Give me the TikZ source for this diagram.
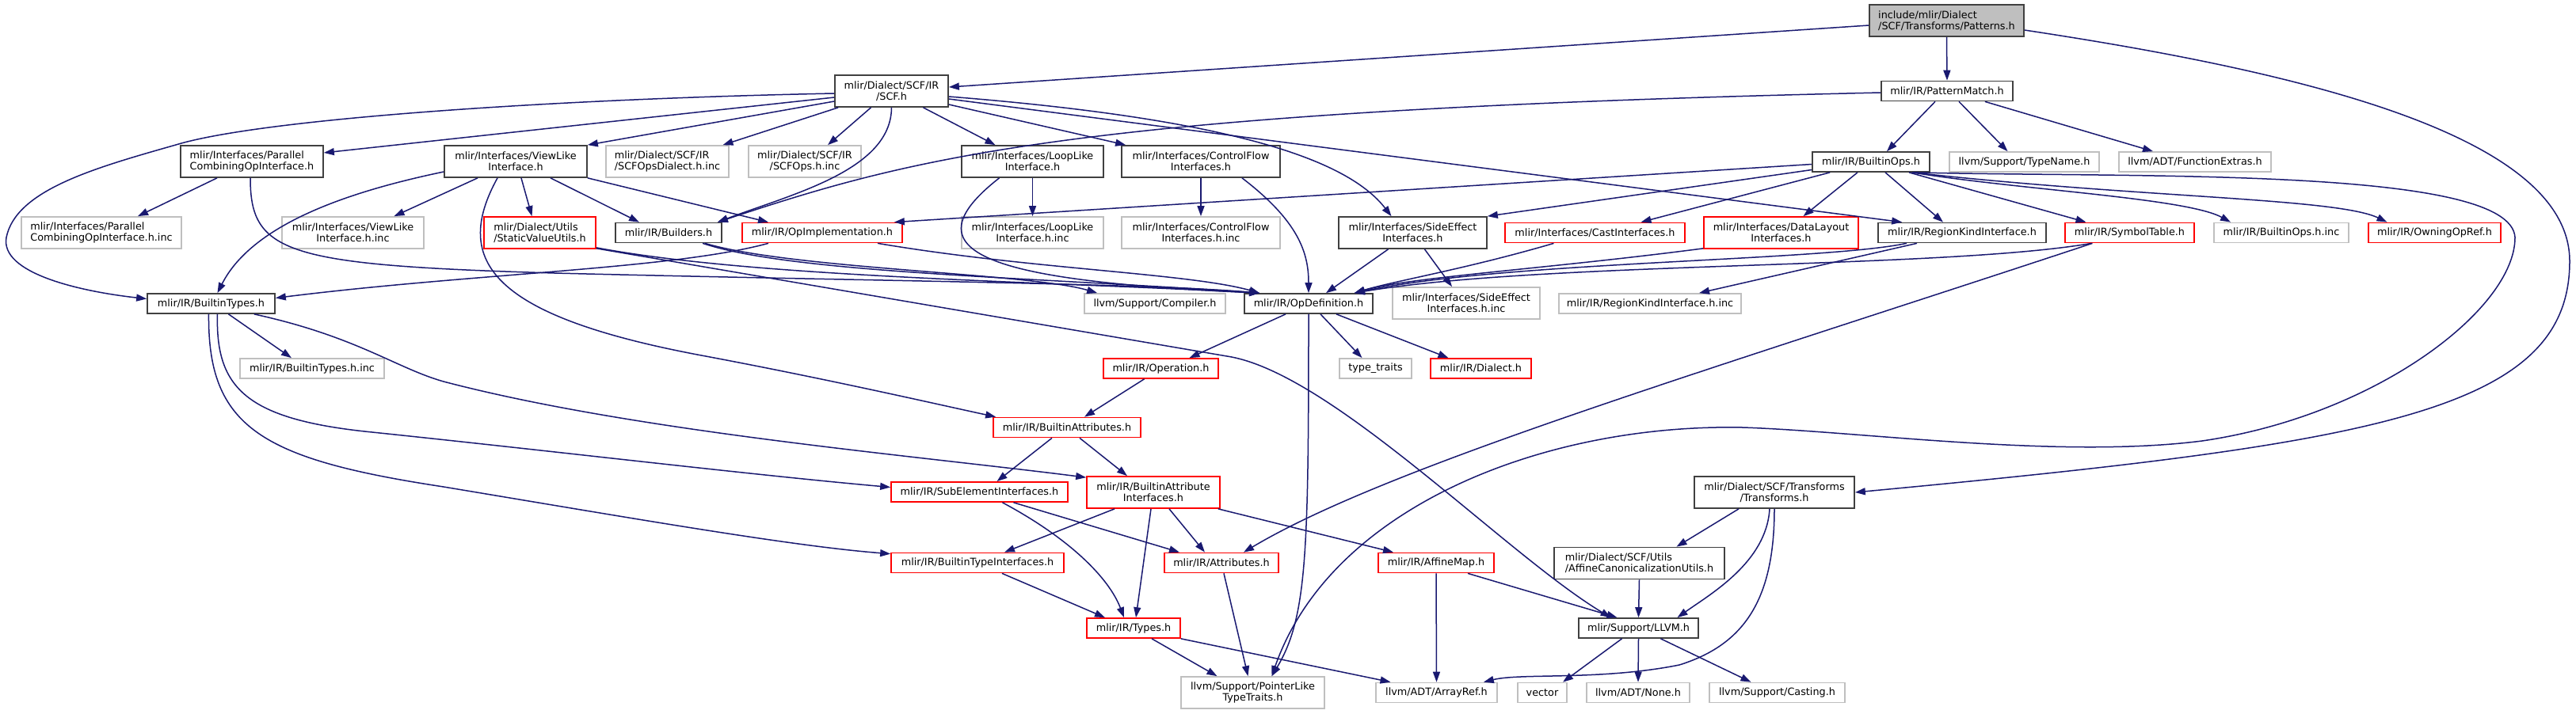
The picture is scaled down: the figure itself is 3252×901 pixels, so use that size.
\documentclass[tikz,border=0pt]{standalone}
\usepackage{fontspec}
\setmainfont{DejaVu Sans}
\usetikzlibrary{positioning, arrows.meta, calc}

\definecolor{edgeblue}{HTML}{191970}
\definecolor{grey25}{HTML}{404040}
\definecolor{grey75}{HTML}{BFBFBF}

\begin{document}
\begin{tikzpicture}[
    x=0.5pt, y=-0.5pt, % one unit = one pixel of the graph
    every node/.style={font=\fontsize{6.4}{7}\selectfont, align=center, inner sep=0pt, minimum height=12.5pt},
    doc/.style={draw=grey25, line width=0.85pt, fill=white},
    root/.style={draw=grey25, line width=0.85pt, fill=grey75},
    trunc/.style={draw=red, line width=0.85pt, fill=white},
    ext/.style={draw=grey75, line width=0.85pt, fill=white},
    two/.style={minimum height=20pt},
    lft/.style={align=left},
    bw/.style={minimum width=#1*0.5pt},
    dep/.style={draw=edgeblue, line width=0.75pt, -{Triangle[length=6.5pt, width=4.5pt]}}
]
    \useasboundingbox (0,0) rectangle (3252,901);

    % Rows of headers
    \node[root, two, lft, bw=195] (pat) at (2457.5,26) {include/mlir/Dialect\\/SCF/Transforms/Patterns.h};

    \node[doc, two, bw=143] (scf) at (1125.5,115) {mlir/Dialect/SCF/IR\\/SCF.h};
    \node[doc, bw=166] (pm) at (2458,115) {mlir/IR/PatternMatch.h};

    \node[doc, two, lft, bw=180] (par) at (318,204) {mlir/Interfaces/Parallel\\CombiningOpInterface.h};
    \node[doc, two, bw=180] (vl) at (651,204) {mlir/Interfaces/ViewLike\\Interface.h};
    \node[ext, two, lft, bw=155] (scfd) at (842.5,204) {mlir/Dialect/SCF/IR\\/SCFOpsDialect.h.inc};
    \node[ext, two, bw=142] (scfo) at (1016,204) {mlir/Dialect/SCF/IR\\/SCFOps.h.inc};
    \node[doc, two, bw=179] (ll) at (1303.5,204) {mlir/Interfaces/LoopLike\\Interface.h};
    \node[doc, two, bw=200] (cf) at (1516,204) {mlir/Interfaces/ControlFlow\\Interfaces.h};
    \node[doc, bw=148] (bops) at (2362,204.5) {mlir/IR/BuiltinOps.h};
    \node[ext, bw=189] (tn) at (2555.5,204.5) {llvm/Support/TypeName.h};
    \node[ext, bw=192] (fe) at (2771,204.5) {llvm/ADT/FunctionExtras.h};

    \node[ext, two, lft, bw=202] (pari) at (128,294) {mlir/Interfaces/Parallel\\CombiningOpInterface.h.inc};
    \node[ext, two, bw=179] (vli) at (445.5,294) {mlir/Interfaces/ViewLike\\Interface.h.inc};
    \node[trunc, two, lft, bw=141] (svu) at (681.5,294) {mlir/Dialect/Utils\\/StaticValueUtils.h};
    \node[doc, bw=134] (bld) at (844,294) {mlir/IR/Builders.h};
    \node[trunc, bw=202] (opi) at (1038,294) {mlir/IR/OpImplementation.h};
    \node[ext, two, bw=179] (lli) at (1303.5,294) {mlir/Interfaces/LoopLike\\Interface.h.inc};
    \node[ext, two, bw=200] (cfi) at (1516,294) {mlir/Interfaces/ControlFlow\\Interfaces.h.inc};
    \node[doc, two, bw=187] (se) at (1783.5,294) {mlir/Interfaces/SideEffect\\Interfaces.h};
    \node[trunc, bw=227] (ci) at (2013.5,294) {mlir/Interfaces/CastInterfaces.h};
    \node[trunc, two, bw=195] (dl) at (2248.5,294) {mlir/Interfaces/DataLayout\\Interfaces.h};
    \node[doc, bw=212] (rk) at (2477,294) {mlir/IR/RegionKindInterface.h};
    \node[trunc, bw=163] (st) at (2688.5,294) {mlir/IR/SymbolTable.h};
    \node[ext, bw=170] (bopsi) at (2880,294) {mlir/IR/BuiltinOps.h.inc};
    \node[trunc, bw=167] (oor) at (3073.5,294) {mlir/IR/OwningOpRef.h};

    \node[doc, bw=161] (bt) at (266.5,383.5) {mlir/IR/BuiltinTypes.h};
    \node[ext, bw=178] (comp) at (1458,383.5) {llvm/Support/Compiler.h};
    \node[doc, bw=162] (od) at (1652,383.5) {mlir/IR/OpDefinition.h};
    \node[ext, two, bw=186] (sei) at (1851,383) {mlir/Interfaces/SideEffect\\Interfaces.h.inc};
    \node[ext, bw=230] (rki) at (2083,383.5) {mlir/IR/RegionKindInterface.h.inc};

    \node[ext, bw=182] (bti) at (394,465.5) {mlir/IR/BuiltinTypes.h.inc};
    \node[trunc, bw=145] (op) at (1465.5,465.5) {mlir/IR/Operation.h};
    \node[ext, bw=91] (tt) at (1736.5,465.5) {type\_traits};
    \node[trunc, bw=127] (dia) at (1869.5,465.5) {mlir/IR/Dialect.h};

    \node[trunc, bw=186] (ba) at (1347,540) {mlir/IR/BuiltinAttributes.h};

    \node[trunc, bw=223] (subel) at (1236.5,621.5) {mlir/IR/SubElementInterfaces.h};
    \node[trunc, two, bw=168] (bai) at (1456,622) {mlir/IR/BuiltinAttribute\\Interfaces.h};
    \node[doc, two, bw=202] (tr) at (2240,622) {mlir/Dialect/SCF/Transforms\\/Transforms.h};

    \node[trunc, bw=218] (btif) at (1234,711) {mlir/IR/BuiltinTypeInterfaces.h};
    \node[trunc, bw=144] (attr) at (1542,711) {mlir/IR/Attributes.h};
    \node[trunc, bw=146] (am) at (1813,711) {mlir/IR/AffineMap.h};
    \node[doc, two, lft, bw=215] (acu) at (2069.5,711.5) {mlir/Dialect/SCF/Utils\\/AffineCanonicalizationUtils.h};

    \node[trunc, bw=118] (ty) at (1431,793.5) {mlir/IR/Types.h};
    \node[doc, bw=151] (llvm) at (2068.5,793.5) {mlir/Support/LLVM.h};

    \node[ext, two, bw=181] (plt) at (1581.5,875) {llvm/Support/PointerLike\\TypeTraits.h};
    \node[ext, bw=153] (ar) at (1813.5,875) {llvm/ADT/ArrayRef.h};
    \node[ext, bw=62] (vec) at (1947,875) {vector};
    \node[ext, bw=130] (none) at (2068,875) {llvm/ADT/None.h};
    \node[ext, bw=171] (cast) at (2243.5,875) {llvm/Support/Casting.h};

    % Meeting points of several arrows
    \coordinate (odl) at ($(od.north west)+(20,0)$);
    \coordinate (odr) at ($(od.north east)+(-24,0)$);
    \coordinate (pltr) at ($(plt.north)+(24,0)$);

    % Patterns.h
    \draw[dep] ($(pat.west)+(0,6)$) -- ($(scf.east)+(0,-5)$);
    \draw[dep] (pat.south) -- (pm.north);
    \draw[dep] ($(pat.east)+(0,12)$) .. controls (2900,90) and (3244,170) .. (3244,330)
        .. controls (3244,520) and (3000,560) .. (tr.east);

    % SCF.h
    \draw[dep] ($(scf.west)+(0,8)$) -- ($(par.east)+(0,-11)$);
    \draw[dep] ($(scf.west)+(0,13)$) -- (vl.north east);
    \draw[dep] ($(scf.south west)+(5,0)$) -- ($(scfd.north)+(70,0)$);
    \draw[dep] ($(scf.south)+(-26,0)$) -- ($(scfo.north)+(29,0)$);
    \draw[dep] ($(scf.west)+(0,3)$) .. controls (700,125) and (330,150) .. (222,183)
        .. controls (120,212) and (20,240) .. (8,300)
        .. controls (0,345) and (100,368) .. ($(bt.west)+(0,-6)$);
    \draw[dep] (scf.south) .. controls (1125,215) and (1000,245) .. ($(bld.north east)+(-6,0)$);
    \draw[dep] ($(scf.south)+(40,0)$) -- ($(ll.north)+(-47,0)$);
    \draw[dep] ($(scf.east)+(0,17)$) -- ($(cf.north west)+(6,0)$);
    \draw[dep] ($(scf.east)+(0,7)$) .. controls (1550,150) and (1700,200) .. ($(se.north)+(-27,0)$);
    \draw[dep] ($(scf.east)+(0,10)$) -- ($(rk.north west)+(31,0)$);

    % PatternMatch.h
    \draw[dep] ($(pm.west)+(0,2)$) .. controls (1350,140) and (1150,200) .. ($(bld.north east)+(-6,0)$);
    \draw[dep] ($(pm.south)+(-15,0)$) -- ($(bops.north)+(20,0)$);
    \draw[dep] ($(pm.south)+(15,0)$) -- ($(tn.north)+(-21,0)$);
    \draw[dep] ($(pm.south east)+(-36,0)$) -- ($(fe.north)+(-53,0)$);

    % Interfaces
    \draw[dep] ($(par.south)+(-44,0)$) -- ($(pari.north)+(46,0)$);
    \draw[dep] ($(par.south)+(-2,0)$) .. controls (316,320) and (360,335) .. (700,345)
        .. controls (1100,355) and (1450,358) .. (odl);
    \draw[dep] ($(vl.west)+(0,13)$) .. controls (450,240) and (320,280) .. ($(bt.north)+(8,0)$);
    \draw[dep] ($(vl.south)+(-48,0)$) -- ($(vli.north)+(52,0)$);
    \draw[dep] ($(vl.south)+(7,0)$) -- ($(svu.north)+(-10,0)$);
    \draw[dep] ($(vl.south)+(44,0)$) -- ($(bld.north)+(-37,0)$);
    \draw[dep] (vl.south east) -- ($(opi.north)+(-68,0)$);
    \draw[dep] ($(vl.south)+(-23,0)$) .. controls (570,330) and (620,400) .. (891,450)
        .. controls (1050,480) and (1180,510) .. ($(ba.north west)+(4,0)$);
    \draw[dep] (ll.south) -- (lli.north);
    \draw[dep] ($(ll.south)+(-42,0)$) .. controls (1140,320) and (1250,355) .. (odl);
    \draw[dep] (cf.south) -- (cfi.north);
    \draw[dep] ($(cf.south)+(52,0)$) .. controls (1640,280) and (1652,320) .. (od.north);

    % BuiltinTypes.h
    \draw[dep] ($(bt.south)+(22,0)$) -- ($(bti.north)+(-26,0)$);
    \draw[dep] ($(bt.south east)+(-27,0)$) .. controls (450,425) and (500,465) .. (560,482)
        .. controls (800,545) and (1150,575) .. ($(bai.north west)+(0,2)$);
    \draw[dep] ($(bt.south)+(8,0)$) .. controls (272,490) and (310,530) .. (470,546)
        .. controls (700,570) and (950,600) .. ($(subel.west)+(0,-6)$);
    \draw[dep] ($(bt.south)+(-3,0)$) .. controls (262,540) and (330,580) .. (560,615)
        .. controls (800,655) and (1000,690) .. ($(btif.north west)+(0,2)$);

    % Utils, Builders, OpImplementation
    \draw[dep] ($(svu.south east)+(0,-2)$) .. controls (950,350) and (1300,355) .. (odl);
    \draw[dep] ($(svu.south east)+(0,-1)$) -- (1549,450) .. controls (1680,470) and (1900,700) .. ($(llvm.north)+(-35,0)$);
    \draw[dep] ($(bld.south)+(43,0)$) .. controls (1000,345) and (1300,350) .. (odl);
    \draw[dep] ($(bld.south)+(46,0)$) .. controls (1000,340) and (1300,345) .. ($(comp.north west)+(17,0)$);
    \draw[dep] ($(opi.south)+(70,0)$) .. controls (1300,340) and (1500,345) .. (odl);
    \draw[dep] ($(opi.south)+(-68,0)$) .. controls (850,340) and (600,345) .. ($(bt.east)+(0,-7)$);

    % right hand interfaces
    \draw[dep] ($(se.south)+(-31,0)$) -- ($(od.north)+(22,0)$);
    \draw[dep] ($(se.south)+(15,0)$) -- ($(sei.north)+(-18,0)$);
    \draw[dep] ($(ci.south)+(-52,0)$) .. controls (1850,340) and (1760,355) .. (odr);
    \draw[dep] ($(dl.south west)+(0,-1)$) .. controls (1950,340) and (1780,350) .. (odr);
    \draw[dep] ($(rk.south)+(-70,0)$) .. controls (2300,330) and (1900,330) .. (odr);
    \draw[dep] ($(rk.south)+(-57,0)$) -- ($(rki.north)+(62,0)$);
    \draw[dep] ($(st.south)+(-48,0)$) .. controls (2450,340) and (1950,330) .. (odr);
    \draw[dep] ($(st.south)+(-47,0)$) .. controls (2150,470) and (1750,590) .. ($(attr.north)+(28,0)$);

    % BuiltinOps.h
    \draw[dep] ($(bops.west)+(0,3)$) -- ($(opi.north east)+(-11,0)$);
    \draw[dep] ($(bops.west)+(0,10)$) -- (se.north east);
    \draw[dep] ($(bops.south west)+(23,0)$) -- ($(ci.north)+(58,0)$);
    \draw[dep] ($(bops.south)+(-17,0)$) -- ($(dl.north)+(28,0)$);
    \draw[dep] ($(bops.south)+(18,0)$) -- ($(rk.north)+(-24,0)$);
    \draw[dep] ($(bops.south)+(48,0)$) -- ($(st.north)+(-55,0)$);
    \draw[dep] ($(bops.south)+(52,0)$) .. controls (2550,240) and (2760,250) .. ($(bopsi.north)+(-64,0)$);
    \draw[dep] ($(bops.south)+(52,0)$) .. controls (2700,250) and (2950,250) .. ($(oor.north)+(-60,0)$);
    \draw[dep] ($(bops.south)+(54,0)$) .. controls (2700,225) and (3170,210) .. (3175,300)
        .. controls (3175,390) and (3000,525) .. (2780,557)
        .. controls (2600,580) and (2350,545) .. (2200,540)
        .. controls (1950,535) and (1680,640) .. (pltr);

    % OpDefinition.h
    \draw[dep] ($(od.south)+(-29,0)$) -- ($(op.north)+(36,0)$);
    \draw[dep] (od.south) .. controls (1652,700) and (1650,780) .. (pltr);
    \draw[dep] ($(od.south)+(15,0)$) -- ($(tt.north)+(-17,0)$);
    \draw[dep] ($(od.south)+(35,0)$) -- ($(dia.north)+(-41,0)$);

    % attributes and types
    \draw[dep] ($(op.south)+(-21,0)$) -- ($(ba.north)+(22,0)$);
    \draw[dep] ($(ba.south)+(-19,0)$) -- ($(subel.north)+(22,0)$);
    \draw[dep] ($(ba.south)+(16,0)$) -- ($(bai.north)+(-33,0)$);
    \draw[dep] ($(subel.south)+(43,0)$) -- ($(attr.north)+(-53,0)$);
    \draw[dep] ($(subel.south)+(29,0)$) .. controls (1350,680) and (1400,730) .. ($(ty.north)+(-12,0)$);
    \draw[dep] ($(bai.south)+(-49,0)$) -- ($(btif.north)+(34,0)$);
    \draw[dep] ($(bai.south)+(-3,0)$) -- ($(ty.north)+(3,0)$);
    \draw[dep] ($(bai.south)+(20,0)$) -- ($(attr.north)+(-21,0)$);
    \draw[dep] ($(bai.south east)+(-3,0)$) -- ($(am.north)+(-54,0)$);
    \draw[dep] ($(btif.south)+(31,0)$) -- ($(ty.north)+(-36,0)$);
    \draw[dep] ($(attr.south)+(3,0)$) -- ($(plt.north)+(-6,0)$);
    \draw[dep] ($(ty.south)+(23,0)$) -- ($(plt.north)+(-45,0)$);
    \draw[dep] (ty.south east) -- ($(ar.north)+(-58,0)$);
    \draw[dep] (am.south) -- (ar.north);
    \draw[dep] ($(am.south)+(40,0)$) -- ($(llvm.north)+(-27,0)$);

    % Transforms.h and LLVM.h
    \draw[dep] (acu.south) -- (llvm.north);
    \draw[dep] ($(tr.south)+(-45,0)$) -- ($(acu.north)+(47,0)$);
    \draw[dep] ($(tr.south)+(-6,0)$) .. controls (2230,710) and (2160,750) .. ($(llvm.north)+(49,0)$);
    \draw[dep] (tr.south) .. controls (2240,760) and (2200,815) .. (2120,840)
        .. controls (2020,860) and (1920,850) .. ($(ar.north east)+(-18,0)$);
    \draw[dep] ($(llvm.south)+(-21,0)$) -- ($(vec.north)+(26,0)$);
    \draw[dep] (llvm.south) -- (none.north);
    \draw[dep] ($(llvm.south)+(28,0)$) -- ($(cast.north)+(-33,0)$);
\end{tikzpicture}
\end{document}
